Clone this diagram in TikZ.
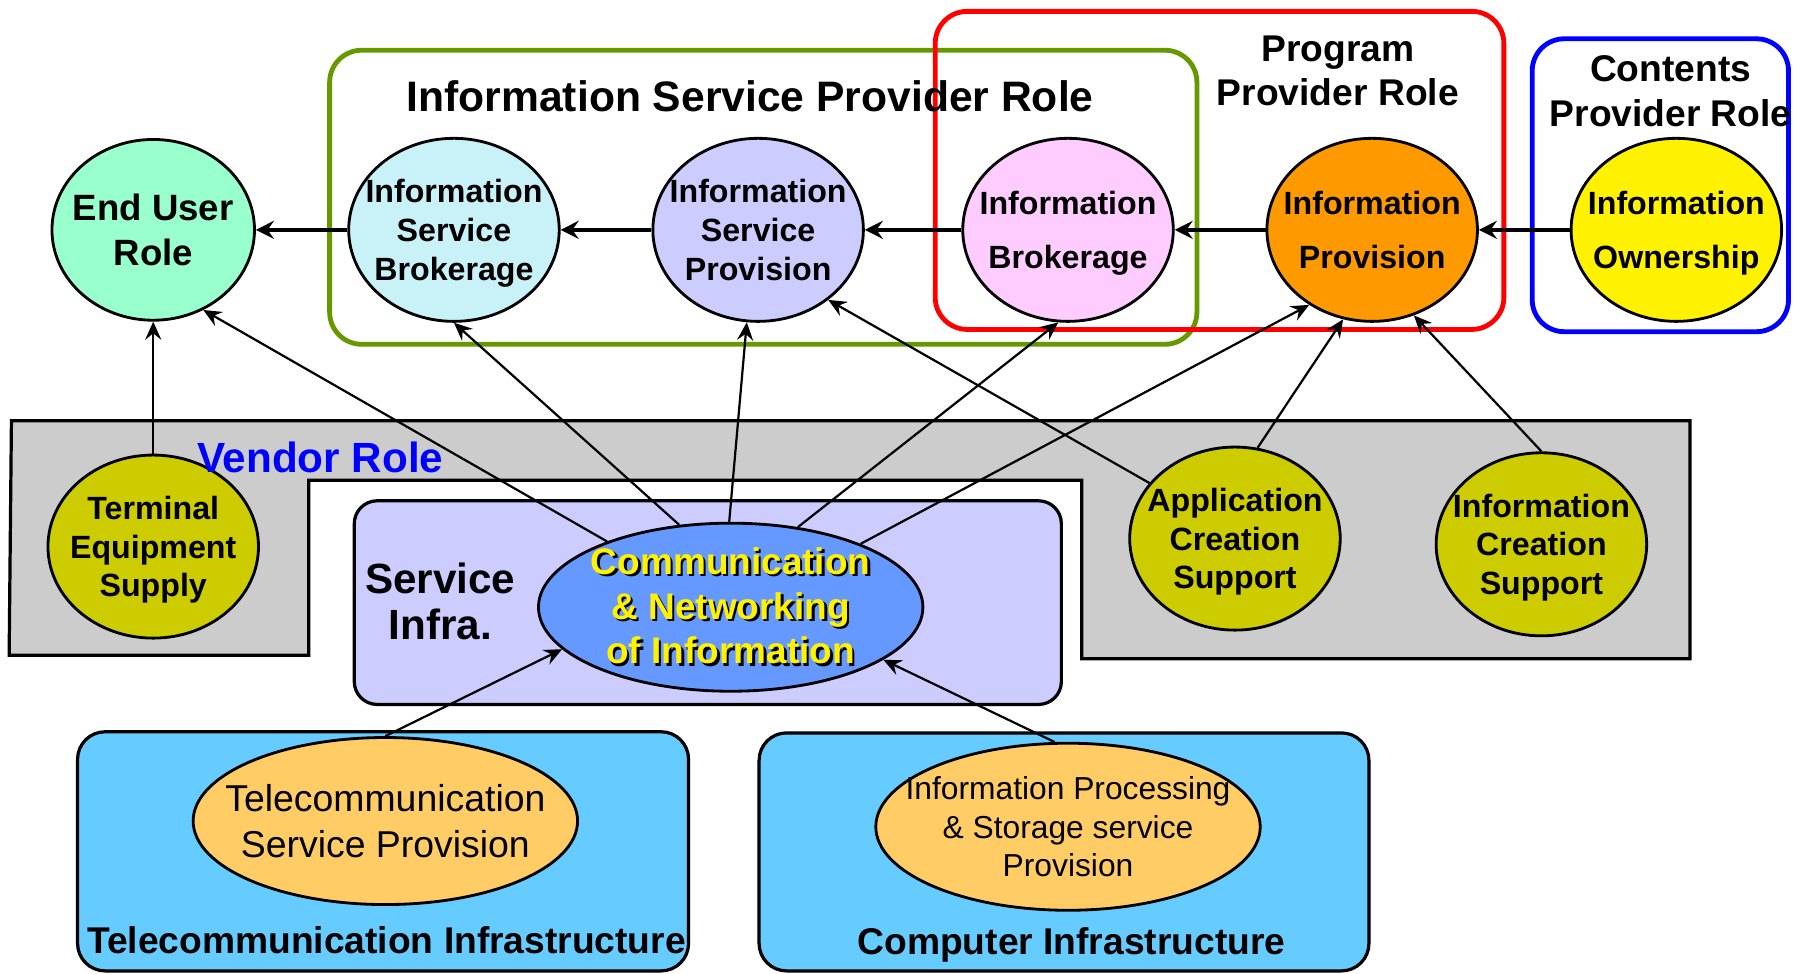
\documentclass[tikz,border=0pt]{standalone}
\usepackage{fontspec}
\setmainfont{Liberation Sans}
\usetikzlibrary{arrows.meta,shapes.geometric}

\definecolor{usergreen}{HTML}{99FFCC}
\definecolor{paleblue}{HTML}{C8F2F8}
\definecolor{lilac}{HTML}{CCCCFF}
\definecolor{brokerpink}{HTML}{FFCCFF}
\definecolor{provorange}{HTML}{FF9900}
\definecolor{vendorolive}{HTML}{CCCC00}
\definecolor{vendorgray}{HTML}{CCCCCC}
\definecolor{comblue}{HTML}{6699FF}
\definecolor{infrablue}{HTML}{66CCFF}
\definecolor{svcorange}{HTML}{FFCC66}
\definecolor{ispgreen}{HTML}{669900}

\newcommand\shadowtxt[1]{\makebox[0pt][l]{\kern0.6pt\raisebox{-0.6pt}{\color{black}#1}}#1}

\begin{document}
\begin{tikzpicture}[x = 0.01cm, y = -0.01cm, line width = 0.6pt,
                    roleball/.style = {ellipse, draw, line width = 0.7pt, minimum width = 1.84cm, minimum height = 1.6cm,
                                       inner xsep = -0.2cm, inner ysep = 0pt, align = center, text depth = 0pt,
                                       font = \fontsize{8}{9.6}\selectfont\bfseries},
                    tworole/.style = {roleball, execute at begin node = \rule{0pt}{9pt},
                                      font = \fontsize{8}{13.4}\selectfont\bfseries},
                    wideball/.style = {ellipse, draw, line width = 0.7pt, minimum width = 3.36cm, minimum height = 1.46cm,
                                       inner xsep = -0.4cm, inner ysep = 0pt, align = center},
                    rolebox/.style = {draw, rounded corners = 0.28cm, line width = 1.2pt, inner sep = 0pt},
                    infrabox/.style = {draw, fill = infrablue, rounded corners = 0.24cm, line width = 0.8pt, inner sep = 0pt},
                    caption/.style = {align = center, inner sep = 0pt, font = \fontsize{9.25}{11.1}\selectfont\bfseries},
                    flow/.style = {-{Stealth[length = 4.5pt, width = 4.5pt, inset = 1.6pt]}, line width = 0.9pt},
                    link/.style = {-{Stealth[length = 4.5pt, width = 4pt, inset = 1.6pt]}, line width = 0.55pt}]
      \useasboundingbox (0, 0) rectangle (1568, 851);

      \node [rolebox, draw = ispgreen, minimum width = 7.58cm, minimum height = 2.57cm] (ispbox) at (667.5, 172.5){};
      \node [rolebox, draw = red, minimum width = 4.97cm, minimum height = 2.78cm] (ppbox) at (1066.5, 149){};
      \node [rolebox, draw = blue, minimum width = 2.24cm, minimum height = 2.56cm] (cpbox) at (1452, 162){};

      \draw [fill = vendorgray, line width = 0.8pt] (10, 368) -- (1478, 368) -- (1478, 576) -- (946, 576) -- (946, 420)
            -- (270, 420) -- (270, 573) -- (8, 573) -- cycle;

      \node [draw, fill = lilac, rounded corners = 0.2cm, line width = 0.8pt, minimum width = 6.18cm,
             minimum height = 1.78cm, inner sep = 0pt] (sibox) at (619, 527){};
      \node [infrabox, minimum width = 5.34cm, minimum height = 2.09cm] (telebox) at (335, 744.5){};
      \node [infrabox, minimum width = 5.33cm, minimum height = 2.08cm] (compbox) at (930.5, 745){};

      \node [caption, font = \fontsize{10.6}{12.7}\selectfont\bfseries] (isptitle) at (656, 84){Information Service Provider Role};
      \node [caption] (pptitle) at (1170, 62){Program\\Provider Role};
      \node [caption] (cptitle) at (1461, 80){Contents\\Provider Role};
      \node [caption, font = \fontsize{9.25}{11.4}\selectfont\bfseries] (teletitle) at (338, 822){Telecommunication Infrastructure};
      \node [caption] (comptitle) at (937, 826){Computer Infrastructure};
      \node [caption, font = \fontsize{10.5}{11.4}\selectfont\bfseries] (sititle) at (385, 526){Service\\Infra.};

      \node [roleball, fill = usergreen, minimum width = 1.77cm, minimum height = 1.58cm,
             font = \fontsize{9.1}{11.1}\selectfont\bfseries] (enduser) at (134, 201){End User\\Role};
      \node [roleball, fill = paleblue] (isbroker) at (397, 201){Information\\Service\\Brokerage};
      \node [roleball, fill = lilac] (isprov) at (663, 201){Information\\Service\\Provision};
      \node [tworole, fill = brokerpink] (infobroker) at (934, 201){Information\\Brokerage};
      \node [tworole, fill = provorange] (infoprov) at (1200, 201){Information\\Provision};
      \node [tworole, fill = yellow] (infoowner) at (1466, 201){Information\\Ownership};

      \node [roleball, fill = vendorolive] (terminal) at (134, 478){Terminal\\Equipment\\Supply};
      \node [roleball, fill = vendorolive] (appsupport) at (1080, 471){Application\\Creation\\Support};
      \node [roleball, fill = vendorolive] (infosupport) at (1348, 476){Information\\Creation\\Support};
      \node [caption, text = blue, font = \fontsize{10.5}{12}\selectfont\bfseries] (vendortitle) at (280, 400){Vendor Role};

      \node [wideball, fill = comblue, text = yellow, font = \fontsize{9.2}{11.1}\selectfont\bfseries] (comnet) at (639, 531)
            {\shadowtxt{Communication}\\\shadowtxt{\& Networking}\\\shadowtxt{of Information}};
      \node [wideball, fill = svcorange, font = \fontsize{9.3}{11.4}\selectfont] (telesvc) at (337, 718)
            {Telecommunication\\Service Provision};
      \node [wideball, fill = svcorange, font = \fontsize{7.9}{9.5}\selectfont] (compsvc) at (934, 723)
            {Information Processing\\\& Storage service\\Provision};

      \draw [flow] (infoowner) -- (infoprov);
      \draw [flow] (infoprov) -- (infobroker);
      \draw [flow] (infobroker) -- (isprov);
      \draw [flow] (isprov) -- (isbroker);
      \draw [flow] (isbroker) -- (enduser);

      \draw [link] (terminal) -- (enduser);
      \draw [link] (comnet.152) -- (enduser.-58);
      \draw [link] (comnet.122) -- (isbroker.south);
      \draw [link] (comnet.91) -- (isprov.-97);
      \draw [link] (comnet.50) -- (infobroker.-96);
      \draw [link] (comnet.26) -- (infoprov.-130);
      \draw [link] (appsupport.147) -- (isprov.-45);
      \draw [link] (appsupport.76) -- (infoprov.-108);
      \draw [link] (infosupport.north) -- (infoprov.-64);
      \draw [link] (telesvc.north) -- (comnet.-166);
      \draw [link] (compsvc.99) -- (comnet.-19);
      \end{tikzpicture}
\end{document}
